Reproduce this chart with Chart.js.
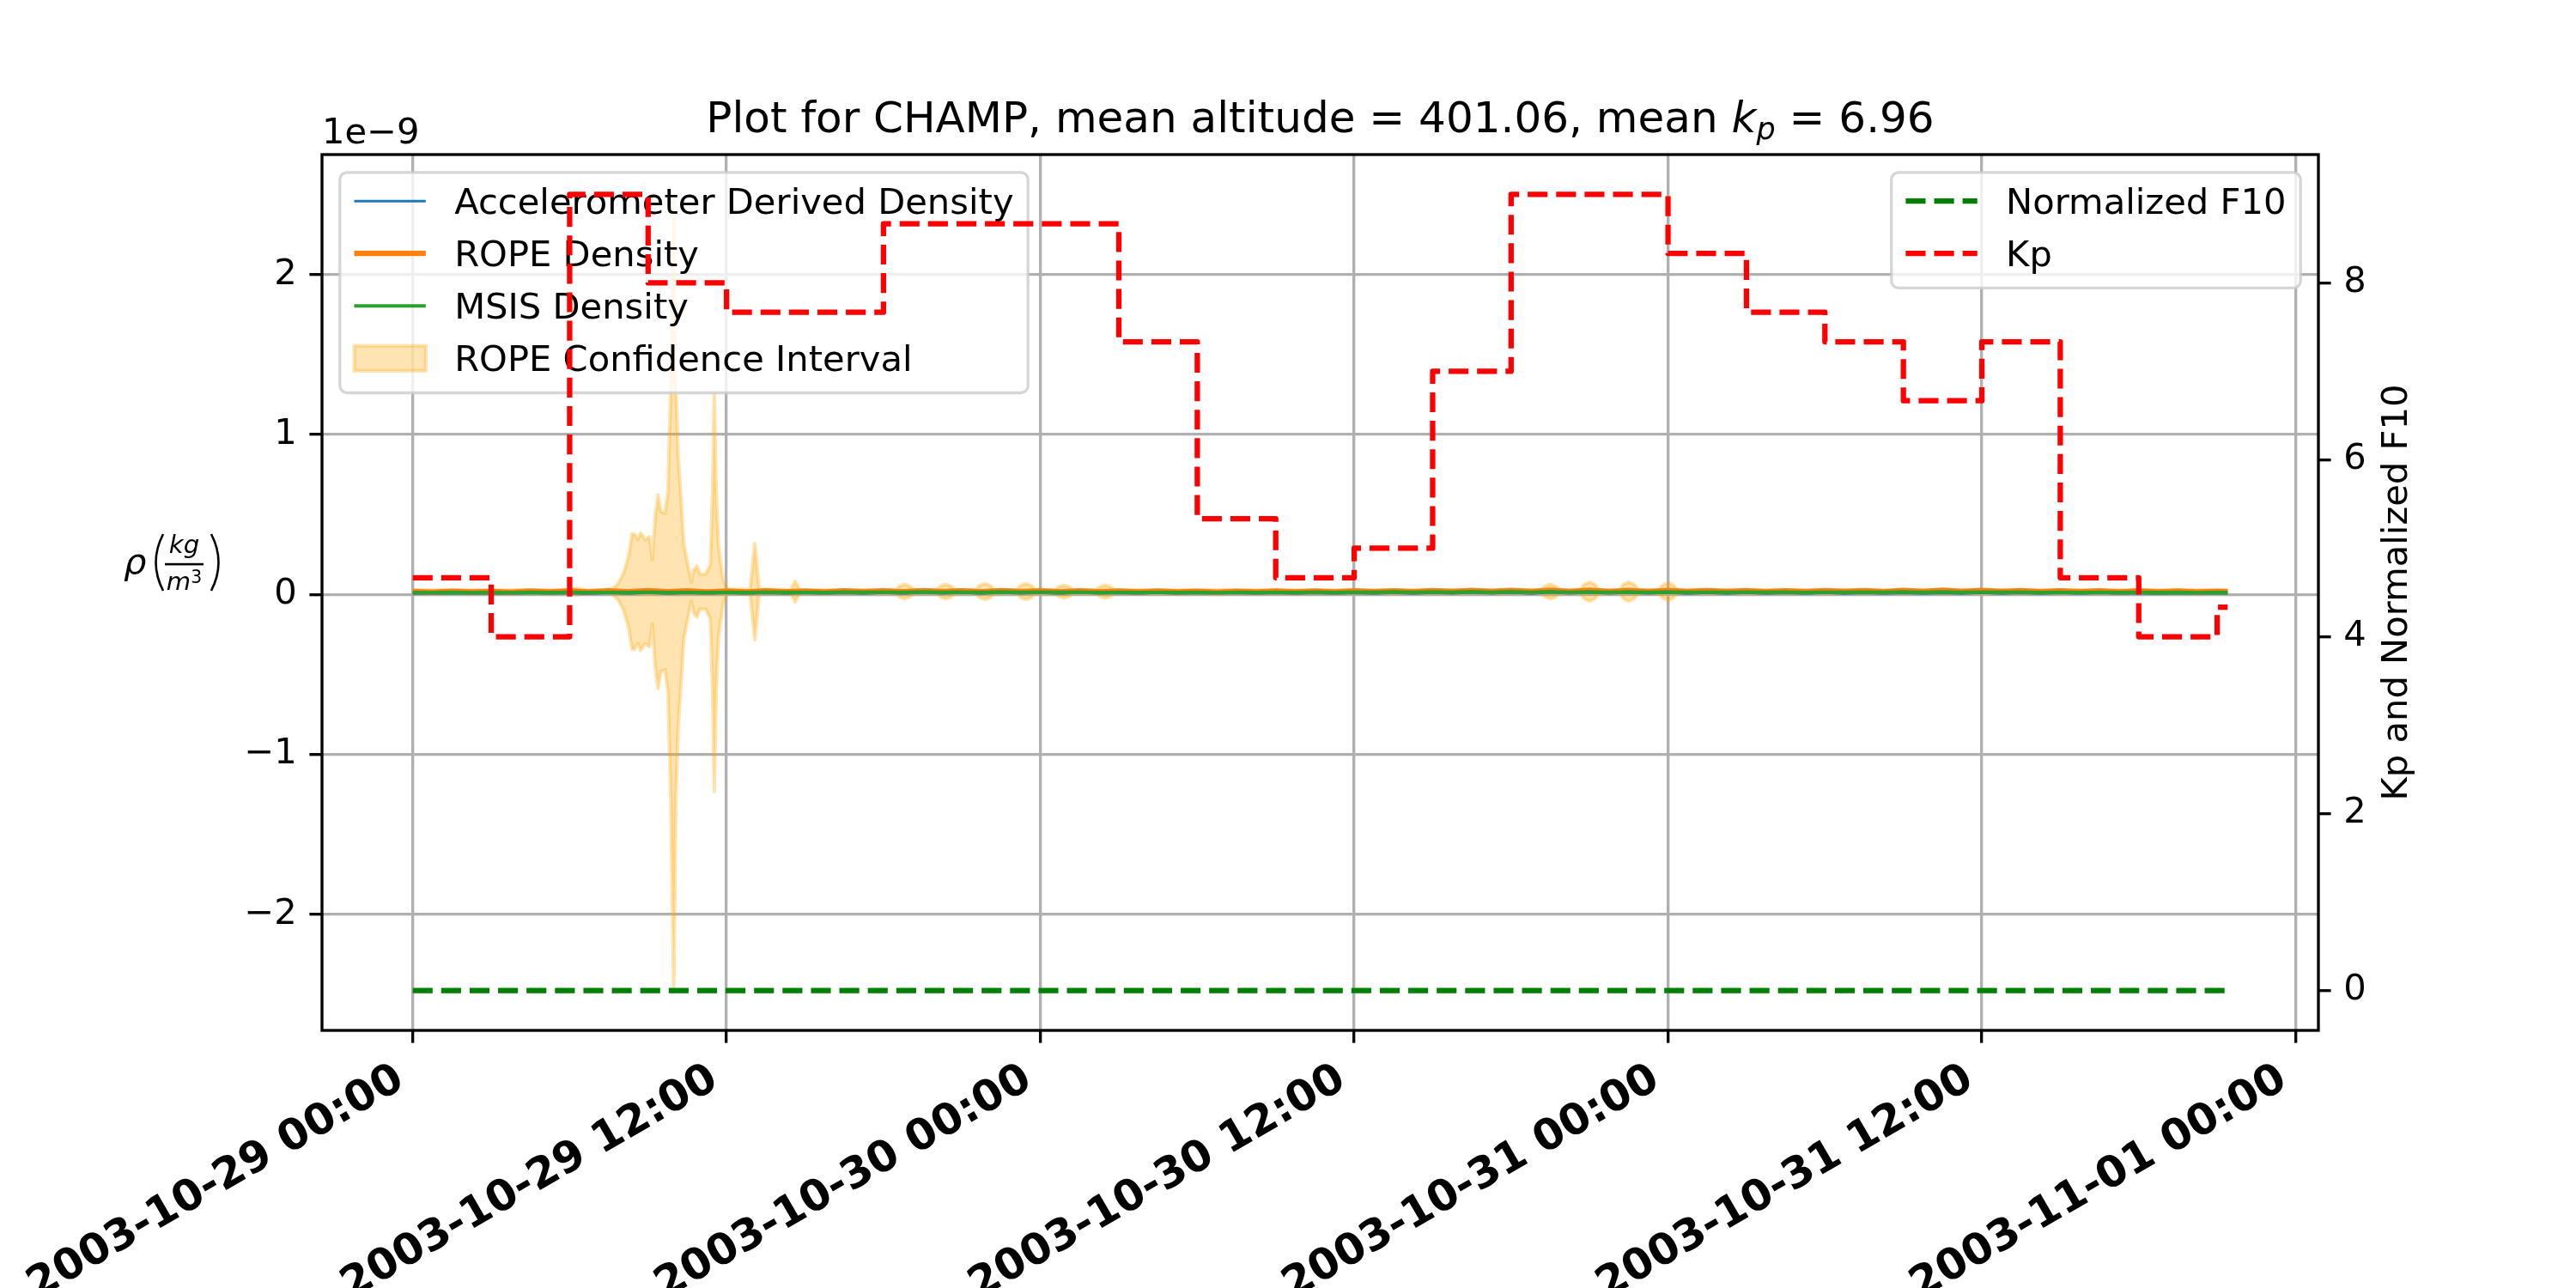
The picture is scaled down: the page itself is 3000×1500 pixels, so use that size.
<!DOCTYPE html>
<html>
<head>
<meta charset="utf-8">
<title>CHAMP density</title>
<script src="https://cdn.jsdelivr.net/npm/chart.js@4.4.1/dist/chart.umd.min.js"></script>
<style>
  html, body { margin: 0; padding: 0; background: #fff; }
  canvas { display: block; }
</style>
</head>
<body>
<canvas id="densityChart" width="3000" height="1500"></canvas>
<script>
// x values are hours since 2003-10-29 00:00 UTC
const xTickLabels = ['2003-10-29 00:00', '2003-10-29 12:00', '2003-10-30 00:00', '2003-10-30 12:00',
    '2003-10-31 00:00', '2003-10-31 12:00', '2003-11-01 00:00'];
const yTickLabels = ['\u22122', '\u22121', '0', '1', '2'];
const y2TickLabels = ['0', '2', '4', '6', '8'];

// Kp, 3-hourly
const kpHours = [0, 3, 6, 9, 12, 15, 18, 21, 24, 27, 30, 33, 36, 39, 42, 45, 48, 51, 54, 57, 60, 63, 66, 69, 69.4];
const kpValues = [4.667, 4, 9, 8, 7.667, 7.667, 8.667, 8.667, 8.667, 7.333, 5.333, 4.667,
    5, 7, 9, 9, 8.333, 7.667, 7.333, 6.667, 7.333, 4.667, 4, 4.333, 4.333];

const f10Hours = [0, 69.4];
const f10Values = [0, 0];

// densities in units of 1e-9 kg/m^3
const densityHours = [0, 0.75, 1.5, 2.25, 3, 3.75, 4.5, 5.25, 6, 6.75, 7.5, 8.25,
    9, 9.75, 10.5, 11.25, 12, 12.75, 13.5, 14.25, 15, 15.75, 16.5, 17.25,
    18, 18.75, 19.5, 20.25, 21, 21.75, 22.5, 23.25, 24, 24.75, 25.5, 26.25,
    27, 27.75, 28.5, 29.25, 30, 30.75, 31.5, 32.25, 33, 33.75, 34.5, 35.25,
    36, 36.75, 37.5, 38.25, 39, 39.75, 40.5, 41.25, 42, 42.75, 43.5, 44.25,
    45, 45.75, 46.5, 47.25, 48, 48.75, 49.5, 50.25, 51, 51.75, 52.5, 53.25,
    54, 54.75, 55.5, 56.25, 57, 57.75, 58.5, 59.25, 60, 60.75, 61.5, 62.25,
    63, 63.75, 64.5, 65.25, 66, 66.75, 67.5, 68.25, 69, 69.4];
const accelDensity = [0.006, 0.004, 0.008, 0.005, 0.007, 0.004, 0.009, 0.005, 0.008, 0.004, 0.010, 0.006,
    0.011, 0.006, 0.010, 0.005, 0.009, 0.005, 0.010, 0.006, 0.009, 0.005, 0.010, 0.006,
    0.011, 0.006, 0.012, 0.007, 0.011, 0.006, 0.012, 0.007, 0.011, 0.006, 0.012, 0.007,
    0.010, 0.006, 0.011, 0.006, 0.010, 0.005, 0.010, 0.005, 0.009, 0.005, 0.010, 0.006,
    0.010, 0.006, 0.011, 0.006, 0.011, 0.007, 0.012, 0.007, 0.012, 0.006, 0.013, 0.007,
    0.013, 0.007, 0.012, 0.007, 0.012, 0.006, 0.011, 0.006, 0.011, 0.006, 0.010, 0.006,
    0.011, 0.006, 0.010, 0.006, 0.010, 0.005, 0.010, 0.006, 0.011, 0.006, 0.010, 0.005,
    0.009, 0.005, 0.009, 0.005, 0.008, 0.004, 0.008, 0.005, 0.008, 0.006];
const ropeDensity = [0.018, 0.015, 0.020, 0.016, 0.019, 0.015, 0.021, 0.016, 0.022, 0.016, 0.023, 0.017,
    0.024, 0.017, 0.022, 0.016, 0.021, 0.016, 0.022, 0.017, 0.021, 0.016, 0.022, 0.017,
    0.023, 0.017, 0.024, 0.018, 0.023, 0.017, 0.024, 0.018, 0.023, 0.017, 0.022, 0.017,
    0.021, 0.016, 0.021, 0.016, 0.020, 0.015, 0.020, 0.016, 0.021, 0.016, 0.021, 0.016,
    0.022, 0.017, 0.023, 0.017, 0.024, 0.018, 0.025, 0.018, 0.025, 0.018, 0.026, 0.019,
    0.026, 0.019, 0.025, 0.018, 0.025, 0.018, 0.024, 0.018, 0.024, 0.017, 0.023, 0.017,
    0.024, 0.018, 0.024, 0.017, 0.025, 0.018, 0.026, 0.018, 0.025, 0.018, 0.024, 0.017,
    0.023, 0.017, 0.023, 0.016, 0.022, 0.016, 0.021, 0.016, 0.020, 0.017];
const msisDensity = [0.012, 0.011, 0.013, 0.011, 0.012, 0.011, 0.013, 0.012, 0.014, 0.012, 0.014, 0.012,
    0.015, 0.012, 0.014, 0.012, 0.014, 0.012, 0.015, 0.013, 0.014, 0.012, 0.015, 0.013,
    0.015, 0.013, 0.016, 0.013, 0.015, 0.013, 0.016, 0.013, 0.015, 0.013, 0.015, 0.012,
    0.014, 0.012, 0.014, 0.012, 0.013, 0.011, 0.014, 0.012, 0.014, 0.012, 0.015, 0.012,
    0.015, 0.013, 0.016, 0.013, 0.016, 0.013, 0.017, 0.014, 0.017, 0.014, 0.017, 0.014,
    0.016, 0.014, 0.016, 0.013, 0.016, 0.013, 0.015, 0.013, 0.015, 0.013, 0.015, 0.012,
    0.015, 0.013, 0.015, 0.013, 0.016, 0.013, 0.016, 0.013, 0.015, 0.013, 0.015, 0.012,
    0.014, 0.012, 0.014, 0.012, 0.013, 0.012, 0.013, 0.011, 0.013, 0.012];

// ROPE confidence interval: half width around the ROPE value
const ciCentre = 0.018;
const ciHours = [0, 5.9, 6.3, 6.6, 7.0, 7.4, 7.63, 7.85, 8.06, 8.25, 8.39, 8.48,
    8.61, 8.72, 8.88, 9.05, 9.16, 9.27, 9.38, 9.49, 9.65, 9.76, 9.87, 9.98,
    10.06, 10.15, 10.26, 10.37, 10.54, 10.65, 10.76, 10.87, 10.98, 11.2, 11.38, 11.47,
    11.53, 11.6, 11.69, 11.86, 12.02, 12.9, 13.08, 13.25, 14.45, 14.62, 14.8,
    18.45, 18.61, 18.81, 19.01, 19.17,
    20.02, 20.18, 20.38, 20.58, 20.74,
    21.52, 21.68, 21.88, 22.08, 22.24,
    23.09, 23.25, 23.45, 23.65, 23.81,
    24.54, 24.7, 24.9, 25.1, 25.26,
    26.12, 26.28, 26.48, 26.68, 26.84,
    43.14, 43.3, 43.5, 43.7, 43.86,
    44.64, 44.8, 45.0, 45.2, 45.36,
    46.14, 46.3, 46.5, 46.7, 46.86,
    47.64, 47.8, 48.0, 48.2, 48.36,
    69.4];
const ciHalfWidth = [0.010, 0.010, 0.020, 0.012, 0.010, 0.012, 0.017, 0.050, 0.115, 0.220, 0.360, 0.360,
    0.325, 0.367, 0.325, 0.343, 0.200, 0.465, 0.605, 0.500, 0.490, 0.630, 1.300, 2.480,
    1.300, 0.850, 0.570, 0.290, 0.150, 0.060, 0.140, 0.160, 0.110, 0.110, 0.170, 0.640,
    1.250, 0.640, 0.290, 0.080, 0.015, 0.015, 0.300, 0.015, 0.012, 0.065, 0.012,
    0.010, 0.034, 0.045, 0.034, 0.010,
    0.010, 0.034, 0.045, 0.034, 0.010,
    0.010, 0.038, 0.050, 0.038, 0.010,
    0.010, 0.038, 0.050, 0.038, 0.010,
    0.010, 0.030, 0.040, 0.030, 0.010,
    0.010, 0.030, 0.040, 0.030, 0.010,
    0.010, 0.034, 0.045, 0.034, 0.010,
    0.010, 0.045, 0.060, 0.045, 0.010,
    0.010, 0.045, 0.060, 0.045, 0.010,
    0.010, 0.041, 0.055, 0.041, 0.010,
    0.010];

const titleParts = ['Plot for CHAMP, mean altitude = 401.06, mean ', 'k', 'p', ' = 6.96'];

const PT = 300 / 72;          // points to pixels at 300 dpi
const FONT = '"DejaVu Sans"';
const DASH = [3.7 * 1.5 * PT, 1.6 * 1.5 * PT];

function pts(xs, ys) {
    return xs.map((x, i) => ({ x: x, y: ys[i] }));
}

const ciUpper = ciHours.map((h, i) => ({ x: h, y: ciCentre + ciHalfWidth[i] }));
const ciLower = ciHours.map((h, i) => ({ x: h, y: ciCentre - ciHalfWidth[i] }));

const leftLegend = [
    { label: 'Accelerometer Derived Density', kind: 'line', color: '#1f77b4', width: 0.7 * PT },
    { label: 'ROPE Density', kind: 'line', color: '#ff7f0e', width: 1.5 * PT },
    { label: 'MSIS Density', kind: 'line', color: '#2ca02c', width: 1 * PT },
    { label: 'ROPE Confidence Interval', kind: 'patch', color: 'rgba(255,165,0,0.3)' }
];
const rightLegend = [
    { label: 'Normalized F10', kind: 'line', color: '#008000', width: 1.5 * PT, dash: DASH },
    { label: 'Kp', kind: 'line', color: '#ff0000', width: 1.5 * PT, dash: DASH }
];

function drawLegend(ctx, items, side, area) {
    const fs = 10 * PT;
    const pad = 0.4 * fs, hl = 2 * fs, htp = 0.8 * fs, axpad = 0.5 * fs;
    const rowH = 40.2, rowGap = 0.5 * fs;
    ctx.save();
    ctx.font = fs + 'px ' + FONT;
    const textW = Math.max(...items.map(it => ctx.measureText(it.label).width));
    const w = pad + hl + htp + textW + pad;
    const h = 2 * pad + items.length * rowH + (items.length - 1) * rowGap;
    const x0 = side === 'left' ? area.left + axpad : area.right - axpad - w;
    const y0 = area.top + axpad;

    ctx.beginPath();
    ctx.roundRect(x0, y0, w, h, 0.2 * fs);
    ctx.fillStyle = 'rgba(255,255,255,0.8)';
    ctx.fill();
    ctx.lineWidth = 0.8 * PT;
    ctx.strokeStyle = 'rgba(204,204,204,0.8)';
    ctx.stroke();

    items.forEach((it, i) => {
        const cy = y0 + pad + 0.4 * fs + i * (rowH + rowGap);
        const hx = x0 + pad;
        if (it.kind === 'line') {
            ctx.beginPath();
            ctx.setLineDash(it.dash || []);
            ctx.lineWidth = it.width;
            ctx.strokeStyle = it.color;
            ctx.moveTo(hx, cy);
            ctx.lineTo(hx + hl, cy);
            ctx.stroke();
            ctx.setLineDash([]);
        } else {
            const ph = 0.7 * fs;
            ctx.fillStyle = it.color;
            ctx.fillRect(hx, cy - ph / 2, hl, ph);
            ctx.lineWidth = 1 * PT;
            ctx.strokeStyle = it.color;
            ctx.strokeRect(hx, cy - ph / 2, hl, ph);
        }
        ctx.fillStyle = '#000';
        ctx.textAlign = 'left';
        ctx.textBaseline = 'alphabetic';
        ctx.fillText(it.label, hx + hl + htp, cy + 0.36 * fs);
    });
    ctx.restore();
}

function drawTitle(ctx, area) {
    const fs = 12 * PT, sub = fs * 0.7;
    const parts = [
        { t: titleParts[0], f: fs + 'px ' + FONT, dy: 0 },
        { t: titleParts[1], f: 'italic ' + fs + 'px ' + FONT, dy: 0 },
        { t: titleParts[2], f: 'italic ' + sub + 'px ' + FONT, dy: 8 },
        { t: titleParts[3], f: fs + 'px ' + FONT, dy: 0 }
    ];
    ctx.save();
    let total = 0;
    parts.forEach(p => { ctx.font = p.f; p.w = ctx.measureText(p.t).width; total += p.w; });
    let x = (area.left + area.right) / 2 - total / 2;
    const base = 154;
    ctx.fillStyle = '#000';
    ctx.textAlign = 'left';
    ctx.textBaseline = 'alphabetic';
    parts.forEach(p => { ctx.font = p.f; ctx.fillText(p.t, x, base + p.dy); x += p.w; });
    ctx.restore();
}

function drawAxisTexts(ctx, area) {
    const fs = 10 * PT, s2 = fs * 0.7, s3 = s2 * 0.7;
    ctx.save();
    ctx.fillStyle = '#000';
    ctx.textBaseline = 'alphabetic';

    // offset text
    ctx.font = fs + 'px ' + FONT;
    ctx.textAlign = 'left';
    ctx.fillText('1e\u22129', area.left, 167);

    // left label: rho (kg / m^3)
    ctx.font = 'italic ' + fs + 'px ' + FONT;
    ctx.fillText('\u03c1', 144, 668);
    ctx.strokeStyle = '#000';
    ctx.lineWidth = 2.6;
    ctx.beginPath();
    ctx.moveTo(190, 622);
    ctx.quadraticCurveTo(173, 655, 190, 688);
    ctx.moveTo(246, 622);
    ctx.quadraticCurveTo(263, 655, 246, 688);
    ctx.stroke();
    ctx.fillRect(192, 655.8, 45, 2.6);
    const cx = 214.5;
    ctx.font = 'italic ' + s2 + 'px ' + FONT;
    ctx.textAlign = 'center';
    ctx.fillText('kg', cx, 644);
    const mw = ctx.measureText('m').width;
    ctx.font = s3 + 'px ' + FONT;
    const tw = ctx.measureText('3').width;
    const sx = cx - (mw + tw) / 2;
    ctx.textAlign = 'left';
    ctx.font = 'italic ' + s2 + 'px ' + FONT;
    ctx.fillText('m', sx, 687);
    ctx.font = s3 + 'px ' + FONT;
    ctx.fillText('3', sx + mw, 679);

    // right label
    ctx.font = fs + 'px ' + FONT;
    ctx.translate(2803, (area.top + area.bottom) / 2);
    ctx.rotate(-Math.PI / 2);
    ctx.textAlign = 'center';
    ctx.fillText('Kp and Normalized F10', 0, 0);
    ctx.restore();
}

const decorPlugin = {
    id: 'decor',
    afterDatasetDraw(chart, args) {
        // left legend sits above the density axes but below the Kp axes
        if (args.index === 2) drawLegend(chart.ctx, leftLegend, 'left', chart.chartArea);
    },
    afterDatasetsDraw(chart) {
        drawLegend(chart.ctx, rightLegend, 'right', chart.chartArea);
    },
    afterDraw(chart) {
        const ctx = chart.ctx, a = chart.chartArea;
        ctx.save();
        ctx.strokeStyle = '#000';
        ctx.lineWidth = 0.8 * PT;
        ctx.strokeRect(a.left, a.top, a.right - a.left, a.bottom - a.top);
        ctx.restore();
        drawTitle(ctx, a);
        drawAxisTexts(ctx, a);
    }
};

const tickFont = { family: 'DejaVu Sans', size: 10 * PT };
const gridOpts = { color: '#b0b0b0', lineWidth: 0.8 * PT, tickLength: 3.5 * PT, tickColor: '#000', tickWidth: 0.8 * PT };

const ctx = document.getElementById('densityChart').getContext('2d');
const densityChart = new Chart(ctx, {
    type: 'line',
    data: {
        datasets: [
            { label: 'Kp', data: pts(kpHours, kpValues), yAxisID: 'y2', borderColor: '#ff0000',
              borderWidth: 1.5 * PT, borderDash: DASH, stepped: 'before', order: 1 },
            { label: 'Normalized F10', data: pts(f10Hours, f10Values), yAxisID: 'y2', borderColor: '#008000',
              borderWidth: 1.5 * PT, borderDash: DASH, order: 2 },
            { label: 'MSIS Density', data: pts(densityHours, msisDensity), yAxisID: 'y', borderColor: '#2ca02c',
              borderWidth: 1 * PT, order: 3 },
            { label: 'ROPE Density', data: pts(densityHours, ropeDensity), yAxisID: 'y', borderColor: '#ff7f0e',
              borderWidth: 1.5 * PT, order: 4 },
            { label: 'Accelerometer Derived Density', data: pts(densityHours, accelDensity), yAxisID: 'y',
              borderColor: '#1f77b4', borderWidth: 0.7 * PT, order: 5 },
            { label: 'ROPE Confidence Interval', data: ciUpper, yAxisID: 'y', borderColor: 'rgba(255,165,0,0.3)',
              backgroundColor: 'rgba(255,165,0,0.3)', borderWidth: 1 * PT, fill: '+1', order: 6 },
            { label: 'ROPE CI lower', data: ciLower, yAxisID: 'y', borderColor: 'rgba(255,165,0,0.3)',
              borderWidth: 1 * PT, fill: false, order: 7 }
        ]
    },
    options: {
        responsive: false,
        devicePixelRatio: 1,
        animation: false,
        events: [],
        layout: { padding: { top: 180, left: 0, right: 0, bottom: 0 } },
        elements: {
            point: { radius: 0 },
            line: { tension: 0, borderJoinStyle: 'round' }
        },
        plugins: {
            legend: { display: false },
            tooltip: { enabled: false },
            title: { display: false }
        },
        scales: {
            x: {
                type: 'linear',
                position: 'bottom',
                min: -3.47,
                max: 72.87,
                ticks: {
                    stepSize: 12,
                    includeBounds: false,
                    autoSkip: false,
                    minRotation: 30,
                    maxRotation: 30,
                    padding: 13,
                    labelOffset: -14,
                    color: '#000',
                    font: { family: 'DejaVu Sans', size: 12 * PT, weight: 'bold' },
                    callback: v => xTickLabels[Math.round(v / 12)]
                },
                grid: gridOpts,
                border: { display: false },
                afterFit: s => { s.height = 300; s.paddingLeft = 0; s.paddingRight = 0; }
            },
            y: {
                position: 'left',
                min: -2.725,
                max: 2.75,
                ticks: {
                    stepSize: 1,
                    includeBounds: false,
                    padding: 3.5 * PT,
                    color: '#000',
                    font: tickFont,
                    callback: v => yTickLabels[Math.round(v) + 2]
                },
                grid: gridOpts,
                border: { display: false },
                afterFit: s => { s.width = 375; s.paddingTop = 0; s.paddingBottom = 0; }
            },
            y2: {
                position: 'right',
                min: -0.45,
                max: 9.45,
                ticks: {
                    stepSize: 2,
                    includeBounds: false,
                    padding: 3.5 * PT,
                    color: '#000',
                    font: tickFont,
                    callback: v => y2TickLabels[Math.round(v / 2)]
                },
                grid: Object.assign({}, gridOpts, { drawOnChartArea: false }),
                border: { display: false },
                afterFit: s => { s.width = 300; s.paddingTop = 0; s.paddingBottom = 0; }
            }
        }
    },
    plugins: [decorPlugin]
});
</script>
</body>
</html>
